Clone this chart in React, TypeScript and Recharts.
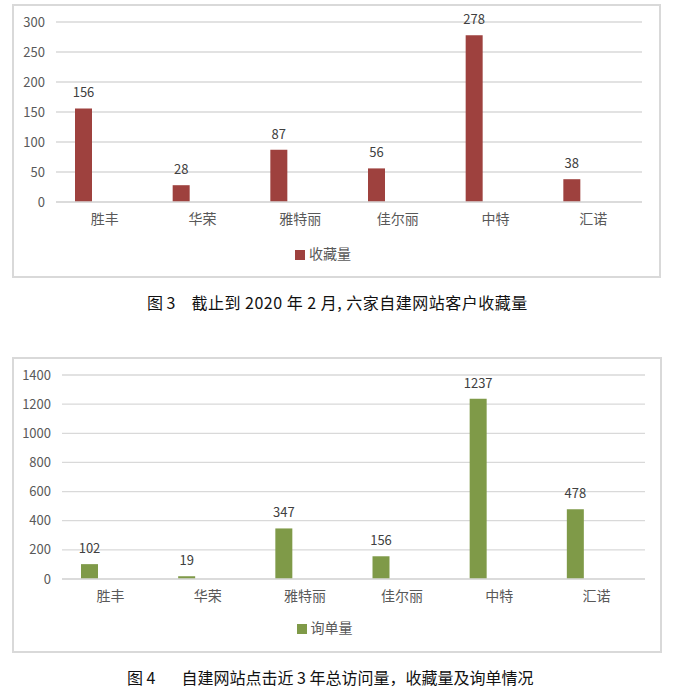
import { BarChart, Bar, XAxis, YAxis, CartesianGrid, Legend, LabelList } from 'recharts'

const companies = ['胜丰', '华荣', '雅特丽', '佳尔丽', '中特', '汇诺']
const favourites = [156, 28, 87, 56, 278, 38]
const inquiries = [102, 19, 347, 156, 1237, 478]
const favTicks = [0, 50, 100, 150, 200, 250, 300]
const inqTicks = [0, 200, 400, 600, 800, 1000, 1200, 1400]

const FONT = '"Noto Sans CJK SC", "Noto Sans", sans-serif'
const GRID = '#d9d9d9'
const TEXT = '#595959'

type PanelProps = {
  values: number[]
  ticks: number[]
  name: string
  color: string
  width: number
  height: number
  margin: { top: number; right: number; left: number; bottom: number }
  yWidth: number
  legendTop: number
}

function Panel({ values, ticks, name, color, width, height, margin, yWidth, legendTop }: PanelProps) {
  // the empty second series keeps the visible bar on the left of its slot, as in the Excel original
  const data = companies.map((c, i) => ({ name: c, value: values[i], blank: null }))
  return (
    <BarChart width={width} height={height} data={data} margin={margin} barGap={0}>
      <CartesianGrid vertical={false} stroke={GRID} strokeWidth={1.3} />
      <XAxis
        dataKey="name"
        axisLine={{ stroke: GRID, strokeWidth: 1.3 }}
        tickLine={false}
        tickSize={0}
        tickMargin={12}
        height={30}
        tick={{ fontSize: 14, fill: TEXT, fontFamily: FONT }}
      />
      <YAxis
        domain={[0, ticks[ticks.length - 1]]}
        ticks={ticks}
        axisLine={false}
        tickLine={false}
        tickSize={0}
        tickMargin={11}
        width={yWidth}
        tick={{ fontSize: 13, fill: TEXT, fontFamily: FONT }}
      />
      <Legend
        iconType="square"
        iconSize={10}
        wrapperStyle={{ top: legendTop, fontSize: 14, fontFamily: FONT }}
        formatter={(v) => <span style={{ color: TEXT }}>{v}</span>}
      />
      <Bar dataKey="value" name={name} fill={color} barSize={17} isAnimationActive={false}>
        <LabelList dataKey="value" position="top" offset={11} fill="#404040" fontSize={13} fontFamily={FONT} />
      </Bar>
      <Bar dataKey="blank" legendType="none" fill="none" barSize={43} isAnimationActive={false} />
    </BarChart>
  )
}

const captionStyle = {
  position: 'absolute' as const,
  fontSize: 16,
  color: '#111',
  whiteSpace: 'pre' as const,
  lineHeight: '20px',
}

export default function App() {
  return (
    <div style={{ position: 'absolute', left: 0, top: 0, width: 688, height: 697, background: '#fff', fontFamily: FONT }}>
      <div style={{ position: 'absolute', left: 12, top: 4, width: 645, height: 270, border: `2px solid ${GRID}` }}>
        <Panel
          values={favourites}
          ticks={favTicks}
          name="收藏量"
          color="#9e413e"
          width={645}
          height={270}
          margin={{ top: 16, right: 17, left: 0, bottom: 24 }}
          yWidth={42}
          legendTop={237}
        />
      </div>
      <div style={{ ...captionStyle, left: 147, top: 292 }}>
        <span>{'图 3'}</span>
        <span style={{ marginLeft: 16, letterSpacing: 0.5 }}>{'截止到 2020 年 2 月, 六家自建网站客户收藏量'}</span>
      </div>

      <div style={{ position: 'absolute', left: 12, top: 357, width: 646, height: 292, border: `2px solid ${GRID}` }}>
        <Panel
          values={inquiries}
          ticks={inqTicks}
          name="询单量"
          color="#7f9a48"
          width={646}
          height={292}
          margin={{ top: 16, right: 15, left: 0, bottom: 22 }}
          yWidth={48}
          legendTop={258}
        />
      </div>
      <div style={{ ...captionStyle, left: 127, top: 667 }}>
        <span>{'图 4'}</span>
        <span style={{ marginLeft: 26 }}>{'自建网站点击近 3 年总访问量，收藏量及询单情况'}</span>
      </div>
    </div>
  )
}
